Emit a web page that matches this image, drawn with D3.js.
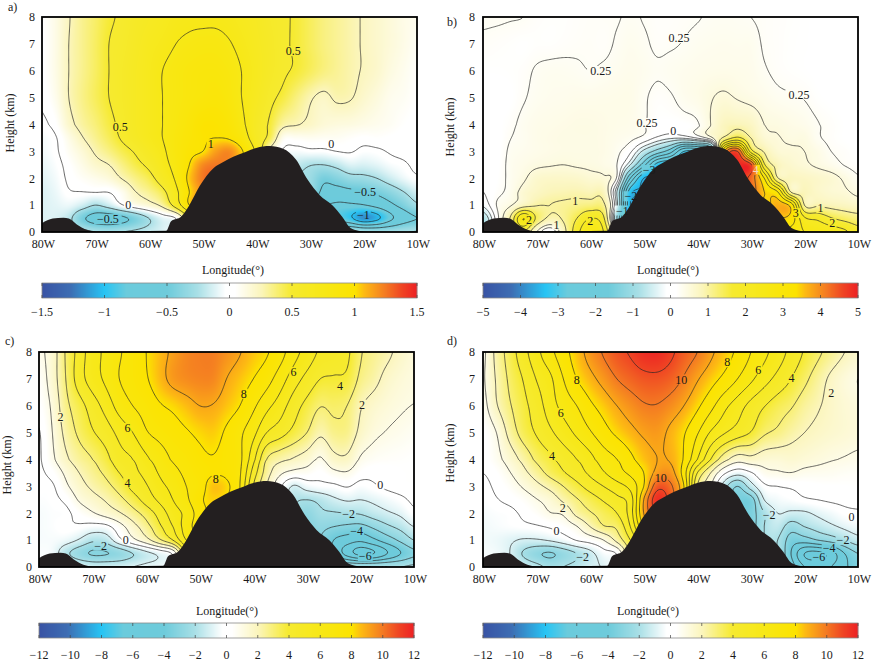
<!DOCTYPE html>
<html>
<head>
<meta charset="utf-8">
<script src="https://cdn.jsdelivr.net/npm/d3@7"></script>
<style>
  body { margin: 0; background: #fff; }
  text { font-family: "Liberation Serif", "Times New Roman", serif; fill: #1a1a1a; }
</style>
</head>
<body>
<script>
// grid the fields were read on
var lons = [80,77.5,75,72.5,70,67.5,65,62.5,60,57.5,55,52.5,50,47.5,45,42.5,40,37.5,35,32.5,30,27.5,25,22.5,20,17.5,15,12.5,10];
var heights = [8,7,6,5,4,3.5,3,2.5,2,1.5,1,.5,0];
var lonTicks = [80,70,60,50,40,30,20,10];
var heightTicks = [0,1,2,3,4,5,6,7,8];

var terrainLon = [80,78,76,75,73.5,71.7,70,56.8,55.9,54,52.5,50.6,48,46,44.3,42,40,37.5,35,32.6,30.4,28.2,25.8,24,22.4,21,19,10];
var terrainH = [.33,.5,.53,.5,.28,.08,.02,.05,.4,.58,1.0,1.7,2.37,2.62,2.8,2.98,3.13,3.2,3.1,2.7,1.94,1.38,1.0,.58,.15,.05,.01,0];

var fieldA = [
  [.05,.12,.24,.33,.4, .48,.52,.58,.62,.66, .7,.72,.72,.72,.7, .66,.62,.56,.52,.48, .42,.36,.32,.28,.24, .2,.16,.12,.1],
  [.04,.12,.25,.33,.41, .5,.54,.6,.66,.7, .75,.78,.8,.8,.76, .7,.64,.58,.52,.48, .42,.36,.32,.28,.24, .2,.16,.12,.08],
  [.04,.12,.25,.33,.41, .5,.56,.62,.68,.75, .8,.84,.86,.86,.82, .74,.66,.58,.52,.48, .42,.36,.32,.28,.24, .2,.14,.1,.06],
  [.02,.1,.25,.34,.42, .5,.56,.62,.68,.75, .8,.85,.88,.9,.85, .74,.64,.54,.46,.36, .27,.22,.27,.26,.2, .15,.1,.08,.05],
  [-.02,.04,.2,.3,.37, .46,.54,.62,.68,.75, .82,.9,.98,.98,.92, .78,.6,.48,.3,.26, .22,.17,.15,.14,.12, .1,.08,.05,.03],
  [-.05,-.01,.12,.24,.33, .42,.52,.6,.68,.75, .84,.92,.98,1.0,.98, .85,.62,.44,.1,.08, .09,.08,.08,.06,.04, .05,.04,.03,.02],
  [-.06,-.02,.08,.17,.27, .35,.44,.52,.62,.72, .84,.95,1.0,1.15,1.2, 1.0,.7,.2,-.02,-.05, -.03,-.03,0,.01,-.03, -.02,.01,.03,.05],
  [-.08,-.04,.04,.12,.2, .25,.35,.45,.54,.68, .82,1.0,1.2,1.25,1.2, 1.0,.7,.1,-.1,-.18, -.24,-.25,-.2,-.12,-.13, -.1,-.05,-.02,.03],
  [-.1,-.06,.02,.07,.11, .16,.26,.35,.44,.6, .78,1.05,1.25,1.3,1.2, 1.0,.7,.2,-.15,-.25, -.3,-.45,-.4,-.32,-.3, -.25,-.16,-.08,-.02],
  [-.12,-.08,-.01,0,.01, .01,.1,.25,.33,.45, .7,1.0,1.2,1.3,1.2, 1.0,.7,.3,0,-.2, -.3,-.55,-.58,-.55,-.52, -.45,-.36,-.25,-.14],
  [-.12,-.1,-.08,-.15,-.25, -.16,-.01,.1,.18,.3, .6,1.0,1.2,1.3,1.2, 1.0,.7,.3,0,-.2, -.4,-.7,-.78,-.78,-.76, -.68,-.55,-.42,-.28],
  [-.12,-.12,-.2,-.45,-.6, -.62,-.55,-.42,-.25,-.1, 0,.5,1.0,1.2,1.2, 1.0,.7,.3,0,-.2, -.5,-.7,-.8,-.95,-1.15, -1.05,-.8,-.6,-.5],
  [-.1,-.1,-.15,-.2,-.25, -.28,-.25,-.22,-.18,-.12, 0,.4,.8,1.0,1.0, .9,.6,.3,0,-.2, -.3,-.3,-.25,-.2,-.25, -.28,-.28,-.26,-.24]
];

var fieldB = [
  [.27,.27,.26,.25,.2, .18,.18,.2,.22,.23, .24,.27,.24,.2,.2, .22,.24,.27,.28,.27, .25,.22,.2,.18,.16, .15,.14,.12,.1],
  [.22,.2,.18,.16,.18, .18,.2,.22,.23,.21, .27,.32,.28,.22,.23, .26,.3,.32,.33,.32, .32,.23,.2,.17,.16, .14,.13,.12,.1],
  [.16,.16,.17,.2,.27, .3,.3,.28,.25,.28, .32,.35,.32,.27,.3, .33,.35,.37,.38,.37, .35,.27,.21,.18,.16, .14,.13,.12,.1],
  [.12,.12,.14,.23,.3, .33,.34,.36,.36,.37, .38,.38,.28,.2,.23, .32,.38,.48,.55,.48, .42,.36,.3,.27,.24, .17,.14,.12,.1],
  [.05,.12,.2,.3,.36, .38,.4,.42,.42,.4, .38,.36,.27,.15,.12, .14,.22,.5,.8,.85, .75,.5,.45,.4,.35, .26,.2,.15,.1],
  [.03,.1,.24,.3,.37, .4,.42,.42,.42,.4, .35,.3,.18,-.05,-.2, -.2,.03,.4,1.1,1.6, 1.0,.6,.52,.45,.45, .28,.2,.15,.12],
  [.02,.1,.28,.33,.37, .4,.42,.42,.42,.4, .3,.05,-.6,-1.2,-1.8, -3,-3,-2,3.5,4.5, 1.8,.95,.6,.55,.5, .4,.25,.2,.15],
  [.02,.12,.3,.38,.45, .48,.5,.47,.45,.4, .25,-.5,-1.8,-3.2,-3.5, -3.5,-3.5,0,4,4.8, 4.6,1.6,.85,.65,.55, .45,.35,.24,.18],
  [.02,.14,.3,.45,.65, .7,.7,.68,.6,.55, .2,-2,-3.5,-3.5,-3.5, -3.5,-3.5,0,4,4.8, 4.3,3,1.05,.8,.75, .68,.6,.45,.28],
  [0,.18,.32,.6,.75, .85,.88,.9,.85,.8, -.5,-3.3,-3.5,-3.5,-3.5, -3.5,-3.5,0,4,4.8, 4.3,3.5,3,.95,.85, .7,.6,.55,.42],
  [-.2,.25,.45,.8,.98, 1.0,1.05,1.12,1.18,1.1, -.4,-3.5,-3.5,-3.5,-3.5, -3.5,-3.5,0,4,4.8, 4.3,3.4,3.7,3.3,1.0, .93,.85,.78,.7],
  [-.8,.1,1.0,2.5,1.4, .9,1.05,1.5,2.0,1.6, -1,-3.5,-3.5,-3.5,-3.5, -3.5,-3.5,0,4,4.5, 4,3.6,3.5,3.3,2.1, 1.9,1.55,1.35,1.2],
  [-1,0,1.0,1.5,.5, 0,.8,1.8,2.5,2.0, 0,-3,-3.5,-3.5,-3.5, -3.5,-3,0,4,4.5, 4,3,3,2.8,2.5, 2.4,2.3,2.1,1.7]
];

var fieldC = [
  [.8,1.5,3.1,4.4,5.6, 6.2,6.9,7.4,8,8.6, 9.2,9.7,9.9,9.9,9.5, 9.05,8.5,8.1,7.4,6.4, 5.6,4.85,4.6,4.2,3.1, 2.6,2.2,1.7,1.3],
  [.5,1.5,3,4.5,5.5, 6.2,7,7.4,7.9,8.6, 9.3,9.6,9.75,9.7,9, 8.5,8,7.4,6.5,5.5, 4.7,4,3.9,3.8,2.8, 2.3,1.7,1.35,1.15],
  [.3,1.2,2.7,3.6,4.5, 5.4,6.4,7,7.4,7.9, 8.2,8.6,9,8.95,8.5, 8,7.2,6.3,5.5,4.5, 3.7,3.05,3.2,3,2.1, 1.6,1.3,1.1,.98],
  [-.05,1,2.3,3.2,3.9, 4.5,5.3,6,6.9,7.3, 7.6,7.9,8.2,8.35,7.85, 7.2,6.3,5,4.4,3.7, 3,2.2,2.7,2.7,1.75, 1.2,.95,.8,.65],
  [-.1,.8,1.8,2.5,3, 3.7,4.6,5,5.8,6.5, 7.1,7.4,7.8,7.95,7.7, 7.2,5.3,3,2.3,1.9, 1.5,.9,1.7,1.8,.9, .6,.5,.45,.4],
  [-.15,.3,1.2,2,2.6, 3.2,4,4.7,5.3,6.1, 6.7,7.2,7.6,7.9,7.8, 7.1,4.6,2.5,1.2,.7, .6,.3,.75,.9,.35, .15,.25,.35,.4],
  [-.2,-.1,.8,1.6,2.2, 2.7,3.4,4.3,4.9,5.7, 6.3,7,7.5,8.5,8.2, 7,4,2,.2,-1.1, -.55,-.3,-.2,.05,-.3, -.1,.15,.3,.35],
  [-.3,-.2,.2,1.1,1.6, 2.1,2.7,3.5,4.4,5.2, 6,6.8,7.8,8.3,8, 7,4,2,0,-1.7, -2,-1.7,-1.2,-.9,-1, -.8,-.5,-.2,.15],
  [-.4,-.3,-.2,.4,.9, 1.4,1.9,2.6,3.4,4.4, 5.5,6.3,7.5,8.2,8, 7,4,2,0,-2, -2.8,-2.2,-2.1,-2,-1.9, -1.5,-1.15,-.8,-.2],
  [-.4,-.3,-.1,-.15,-.35, -.25,.6,1.6,2.6,3.8, 5,6.5,7.5,8,8, 7,4,2,0,-2, -3,-2.8,-3,-3.2,-3.3, -2.8,-2.2,-1.7,-1],
  [-.4,-.4,-.6,-1.1,-1.8, -1.6,-.3,.7,1.6,2.8, 4,6,7,8,8, 7,4,2,0,-2, -3,-3,-4,-4.5,-4.8, -4.2,-3.5,-2.8,-2],
  [-.3,-.5,-1.7,-2.6,-3.1, -3.05,-2.7,-2,-1.3,-.7, .2,4,6,7,7, 6,4,2,0,-2, -3,-3,-4,-5.4,-6.3, -6,-5,-4,-3.2],
  [-.3,-.4,-.6,-1,-1.3, -1.3,-1.2,-1,-.8,-.6, 0,3,5,6,6, 5,4,2,0,-2, -3,-2,-2,-2,-2, -2,-2,-2,-1.8]
];

var fieldD = [
  [.8,2.3,3.46,4.6,5.7, 6.7,7.6,8.5,9.4,10.1, 10.7,11.1,11.6,11.7,11.2, 10.55,10,9.2,8.5,7.8, 7,6.25,5.5,4.7,3.9, 3.2,2.6,2,1.6],
  [.9,2.1,3.2,4.05,5.05, 5.8,7,8,8.7,9.35, 10,10.4,10.7,10.75,10.5, 9.9,9.1,8.4,7.75,7, 6.2,5.4,4.7,4,3.25, 2.5,1.8,1.3,1],
  [.7,1.9,2.9,3.7,4.5, 5.5,6.35,7,7.8,8.4, 9,9.5,9.9,9.95,9.6, 9,8.2,7.3,6.3,5.5, 4.7,4.05,3.5,3.1,2.5, 2.1,1.7,1.4,1.25],
  [.3,1,2.35,3.4,4.1, 4.8,5.5,6.2,6.9,7.6, 8.2,8.7,9.15,9.3,8.8, 8.1,7.1,5.9,5.1,4.5, 3.95,3.15,2.8,2.35,2, 1.75,1.55,1.4,1.25],
  [.25,.7,1.45,2.3,3.2, 3.8,4.4,5,5.7,6.5, 7,7.75,8.5,9,8.9, 7.9,6,4,2.4,1.5, 1.7,1.45,1.4,1.5,1.35, 1.2,1.05,.95,.85],
  [0,.35,.95,1.7,2.5, 3.3,3.9,4.5,5.2,5.9, 6.6,7.2,8,9.3,9.4, 7.5,4,2,.2,-.6, -.1,.75,.9,.98,.8, .75,.7,.6,.55],
  [-.2,.15,.55,1.1,1.7, 2.3,3,3.7,4.4,5, 5.6,6.3,8,10.6,10.2, 8,3,1,-1.5,-3, -1.5,-.2,0,.1,.2, .3,.35,.35,.4],
  [-.3,-.05,.2,.5,.95, 1.4,2.2,2.9,3.5,4.1, 4.7,5.5,9,11.6,10.5, 8,3,0,-2,-3.5, -3.5,-1,-.5,-.3,-.1, 0,.1,.15,.2],
  [-.4,-.3,-.2,.15,.5, .95,1.15,2.3,2.9,3.4, 4,5.5,9,11,10, 8,3,0,-2,-3.5, -3.5,-2,-1,-1.2,-1.15, -.8,-.5,-.2,-.1],
  [-.5,-.4,-.3,-.2,-.1, .1,.4,.95,2,2.9, 3.2,5,8,10,10, 8,3,0,-2,-3.5, -3.5,-2,-1.5,-2.5,-2, -1.6,-1.2,-.8,-.5],
  [-.5,-.6,-.85,-1.1,-1.1, -.9,-.5,.05,.4,1, 2.3,4,6,9,10, 8,3,0,-2,-3.5, -3.5,-2,-2,-3.5,-3.5, -3,-2.6,-2,-1.4],
  [-.4,-.5,-1,-2.1,-2.8, -3.1,-2.6,-2,-1.3,-.4, .1,3,5,8,9, 7,3,0,-2,-3.5, -3.5,-2,-2,-4,-6, -6.3,-5.5,-4,-3],
  [-.3,-.4,-.8,-1.2,-1.7, -2.2,-2,-1.7,-1.2,-.9, 0,2,4,7,8, 6,3,0,-2,-3.5, -3.5,-2,-2,-3.5,-5, -5.2,-5,-4.2,-3.5]
];

var levelsA = [-1,-.75,-.5,-.25,0,.25,.5,.75,1];
var levelsB = [-3.5,-3,-2.5,-2,-1.5,-1,-.5,-.25,0,.25,.5,1,1.5,2,2.5,3,3.5,4,4.5];
var levelsC = [-6,-5,-4,-3,-2,-1,0,1,2,3,4,5,6,7,8,9];
var levelsD = [-6,-5,-4,-3,-2,-1,0,1,2,3,4,5,6,7,8,9,10,11];

// contour labels: lon, height, text
var labelsA = [[65.4,3.91,"0.5"],[33.1,6.73,"0.5"],[48.5,3.27,"1"],[63.9,1.01,"0"],[67.7,.48,"−0.5"],[26,3.27,"0"],[19.7,1.48,"−0.5"],[20,.64,"−1"]];
var labelsB = [[58,5.99,"0.25"],[43.4,7.21,"0.25"],[21,5.11,"0.25"],[49.4,4.06,"0.25"],[44.5,3.77,"0"],[62.8,1.17,"1"],[17,.89,"1"],[66.3,.27,"1"],[71.4,.46,"2"],[60,.4,"2"],[14.8,.33,"2"],[21.6,.7,"3"],[49,2.31,"−3"],[52.4,1.33,"−2"],[54,.8,"−1"],[29.1,2.31,"4"]];
var labelsC = [[76,5.58,"2"],[63.5,5.17,"6"],[63.5,3.14,"4"],[41.8,6.45,"8"],[32.5,7.26,"6"],[23.8,6.76,"4"],[19.7,6.05,"2"],[47,3.3,"8"],[16.3,3.06,"0"],[63.8,1.03,"0"],[68.5,.8,"−2"],[22.2,1.98,"−2"],[20.7,1.33,"−4"],[19.1,.4,"−6"]];
var labelsD = [[62.5,6.97,"8"],[65.5,5.73,"6"],[67.1,4.14,"4"],[65.1,2.2,"2"],[66.3,1.34,"0"],[61.4,.37,"−2"],[43,6.98,"10"],[34.4,7.62,"8"],[28.6,7.35,"6"],[22.4,7.03,"4"],[15,6.5,"2"],[46.8,3.33,"10"],[11.2,1.87,"0"],[12.8,1,"−2"],[15.4,.7,"−4"],[17.3,.37,"−6"],[26.6,1.94,"−2"]];

var barTicksA = [-1.5,-1,-.5,0,.5,1,1.5];
var barTicksB = [-5,-4,-3,-2,-1,0,1,2,3,4,5];
var barTicksC = [-12,-10,-8,-6,-4,-2,0,2,4,6,8,10,12];

var panels = [
  {name:"a)", field:fieldA, levels:levelsA, labels:labelsA, ticks:barTicksA, max:1.5, x0:42, y0:17, tagX:8, tagY:11, yTitleX:14, yTitleY:123, yTickX:35, lonTitleX:233, lonTitleY:274, barY:283, barLabelY:316},
  {name:"b)", field:fieldB, levels:levelsB, labels:labelsB, ticks:barTicksB, max:5, x0:483, y0:17, tagX:447, tagY:26, yTitleX:454, yTitleY:127, yTickX:475, lonTitleX:668, lonTitleY:274, barY:283, barLabelY:316},
  {name:"c)", field:fieldC, levels:levelsC, labels:labelsC, ticks:barTicksC, max:12, x0:39, y0:352, tagX:5, tagY:345, yTitleX:11, yTitleY:465, yTickX:32, lonTitleX:227, lonTitleY:615, barY:623, barLabelY:659},
  {name:"d)", field:fieldD, levels:levelsD, labels:labelsD, ticks:barTicksC, max:12, x0:483, y0:352, tagX:447, tagY:345, yTitleX:454, yTitleY:453, yTickX:475, lonTitleX:648, lonTitleY:615, barY:623, barLabelY:659}
];

var W = 872, H = 661;
var PLOT_W = 375, PLOT_H = 215;

var colorStops = [-1,-.85,-.667,-.55,-.33,-.17,-.02,.03,.17,.33,.5,.67,.72,.83,.92,1];
var colorVals = ["#3953a4","#3d6db3","#27c4f4","#6bcbdc","#6ecbdb","#a8dfe6","#ffffff","#ffffff","#fbf5bb","#f6ea30","#f7e816","#fce300","#fdb913","#f47b22","#ef4423","#ed2024"];

var colIndex = d3.scaleLinear().domain(lons).range(d3.range(lons.length));
var rowIndex = d3.scaleLinear().domain(heights).range(d3.range(heights.length));

function cubic(a, b, c, d, t) {
  return b + .5 * t * (c - a + t * (2*a - 5*b + 4*c - d + t * (3*(b - c) + d - a)));
}

// smooth reading of the coarse grid between its nodes
function sample(field, lon, h) {
  var cx = colIndex(lon), cy = rowIndex(h);
  var i = Math.min(Math.floor(cx), lons.length - 2), j = Math.min(Math.floor(cy), heights.length - 2);
  var tx = cx - i, ty = cy - j;
  var vals = [];
  for (var r = -1; r <= 2; ++r) {
    var row = field[Math.max(0, Math.min(heights.length - 1, j + r))];
    var at = function(k) { return row[Math.max(0, Math.min(lons.length - 1, k))]; };
    vals.push(cubic(at(i-1), at(i), at(i+1), at(i+2), tx));
  }
  return cubic(vals[0], vals[1], vals[2], vals[3], ty);
}

var svg = d3.select("body").append("svg")
  .attr("width", W).attr("height", H)
  .style("display", "block");

panels.forEach(function(p, idx) {
  var x = d3.scaleLinear().domain([80, 10]).range([p.x0, p.x0 + PLOT_W]);
  var y = d3.scaleLinear().domain([0, 8]).range([p.y0 + PLOT_H, p.y0]);
  var color = d3.scaleLinear().domain(colorStops.map(function(s) { return s * p.max; })).range(colorVals).clamp(true);

  var g = svg.append("g");

  svg.append("clipPath").attr("id", "clip" + idx).append("rect")
    .attr("x", p.x0).attr("y", p.y0).attr("width", PLOT_W).attr("height", PLOT_H);

  // colour field
  var canvas = document.createElement("canvas");
  canvas.width = PLOT_W; canvas.height = PLOT_H;
  var ctx = canvas.getContext("2d");
  for (var py = 0; py < PLOT_H; ++py) {
    for (var px = 0; px < PLOT_W; ++px) {
      ctx.fillStyle = color(sample(p.field, x.invert(p.x0 + px + .5), y.invert(p.y0 + py + .5)));
      ctx.fillRect(px, py, 1, 1);
    }
  }
  g.append("image")
    .attr("x", p.x0).attr("y", p.y0).attr("width", PLOT_W).attr("height", PLOT_H)
    .attr("href", canvas.toDataURL());

  // contour lines, broken where a label sits
  var nx = 281, ny = 201, stepLon = .25, stepH = .04;
  var values = new Array(nx * ny);
  for (var j = 0; j < ny; ++j) {
    for (var i = 0; i < nx; ++i) {
      values[j * nx + i] = sample(p.field, 80 - i * stepLon, 8 - j * stepH);
    }
  }
  var contours = d3.contours().size([nx, ny]).thresholds(p.levels)(values);
  var toPlot = d3.geoTransform({
    point: function(cx, cy) {
      this.stream.point(x(80 - (cx - .5) * stepLon), y(8 - (cy - .5) * stepH));
    }
  });
  var path = d3.geoPath(toPlot);

  var mask = svg.append("mask").attr("id", "gap" + idx).attr("maskUnits", "userSpaceOnUse")
    .attr("x", 0).attr("y", 0).attr("width", W).attr("height", H);
  mask.append("rect").attr("width", W).attr("height", H).attr("fill", "#fff");
  mask.selectAll("rect.gap").data(p.labels).enter().append("rect")
    .attr("class", "gap")
    .attr("x", function(d) { return x(d[0]) - d[2].length * 3.2 - 1; })
    .attr("y", function(d) { return y(d[1]) - 5; })
    .attr("width", function(d) { return d[2].length * 6.4 + 2; })
    .attr("height", 10)
    .attr("fill", "#000");

  g.append("g")
    .attr("clip-path", "url(#clip" + idx + ")")
    .append("g")
    .attr("mask", "url(#gap" + idx + ")")
    .selectAll("path").data(contours).enter().append("path")
    .attr("d", path)
    .attr("fill", "none")
    .attr("stroke", "#262626")
    .attr("stroke-width", .7);

  // terrain
  var area = d3.area()
    .x(function(d) { return x(d[0]); })
    .y0(y(0))
    .y1(function(d) { return y(d[1]); })
    .curve(d3.curveMonotoneX);
  g.append("path")
    .datum(d3.zip(terrainLon, terrainH))
    .attr("d", area)
    .attr("fill", "#231f20");

  // contour labels
  g.selectAll("text.clabel").data(p.labels).enter().append("text")
    .attr("class", "clabel")
    .attr("x", function(d) { return x(d[0]); })
    .attr("y", function(d) { return y(d[1]); })
    .attr("dy", ".35em")
    .attr("text-anchor", "middle")
    .attr("font-size", 12)
    .style("fill", function(d) { return (idx == 1 && d[2] == "4") ? "#f3d9c0" : "#1a1a1a"; })
    .text(function(d) { return d[2]; });

  // frame
  g.append("rect")
    .attr("x", p.x0).attr("y", p.y0).attr("width", PLOT_W).attr("height", PLOT_H)
    .attr("fill", "none").attr("stroke", "#000").attr("stroke-width", 1.8);

  // axes
  var xAxis = d3.axisBottom(x).tickValues(lonTicks).tickSize(0).tickFormat(function(d) { return d + "W"; });
  var xg = g.append("g").attr("transform", "translate(1," + (p.y0 + PLOT_H + 4) + ")").call(xAxis);
  xg.select(".domain").remove();
  xg.selectAll("text").attr("font-size", 12);

  var yAxis = d3.axisLeft(y).tickValues(heightTicks).tickSize(0).tickFormat(d3.format("d"));
  var yg = g.append("g").attr("transform", "translate(" + (p.yTickX + 3) + ",0)").call(yAxis);
  yg.select(".domain").remove();
  yg.selectAll("text").attr("font-size", 12);

  g.append("text").attr("x", p.tagX).attr("y", p.tagY).attr("font-size", 12).text(p.name);
  g.append("text")
    .attr("transform", "translate(" + p.yTitleX + "," + p.yTitleY + ") rotate(-90)")
    .attr("text-anchor", "middle").attr("font-size", 12).text("Height (km)");
  g.append("text")
    .attr("x", p.lonTitleX).attr("y", p.lonTitleY)
    .attr("text-anchor", "middle").attr("font-size", 12).text("Longitude(°)");

  // colour bar
  var bar = d3.scaleLinear().domain([-p.max, p.max]).range([p.x0, p.x0 + PLOT_W]);
  var barH = 15;
  var steps = d3.range(PLOT_W);
  g.append("g").selectAll("rect").data(steps).enter().append("rect")
    .attr("x", function(d) { return p.x0 + d; })
    .attr("y", p.barY)
    .attr("width", 1.2)
    .attr("height", barH)
    .attr("fill", function(d) { return color(bar.invert(p.x0 + d + .5)); });
  g.append("rect")
    .attr("x", p.x0).attr("y", p.barY).attr("width", PLOT_W).attr("height", barH)
    .attr("fill", "none").attr("stroke", "#8a8a8a").attr("stroke-width", .8);

  var tick = g.append("g").selectAll("g").data(p.ticks).enter().append("g");
  tick.append("line")
    .attr("x1", function(d) { return bar(d); }).attr("x2", function(d) { return bar(d); })
    .attr("y1", p.barY).attr("y2", p.barY + 3)
    .attr("stroke", "#444").attr("stroke-width", .7);
  tick.append("line")
    .attr("x1", function(d) { return bar(d); }).attr("x2", function(d) { return bar(d); })
    .attr("y1", p.barY + barH - 3).attr("y2", p.barY + barH)
    .attr("stroke", "#444").attr("stroke-width", .7);
  tick.append("text")
    .attr("x", function(d) { return bar(d); })
    .attr("y", p.barLabelY)
    .attr("text-anchor", "middle")
    .attr("font-size", 12)
    .text(function(d) { return String(d).replace("-", "−"); });
});
</script>
</body>
</html>
